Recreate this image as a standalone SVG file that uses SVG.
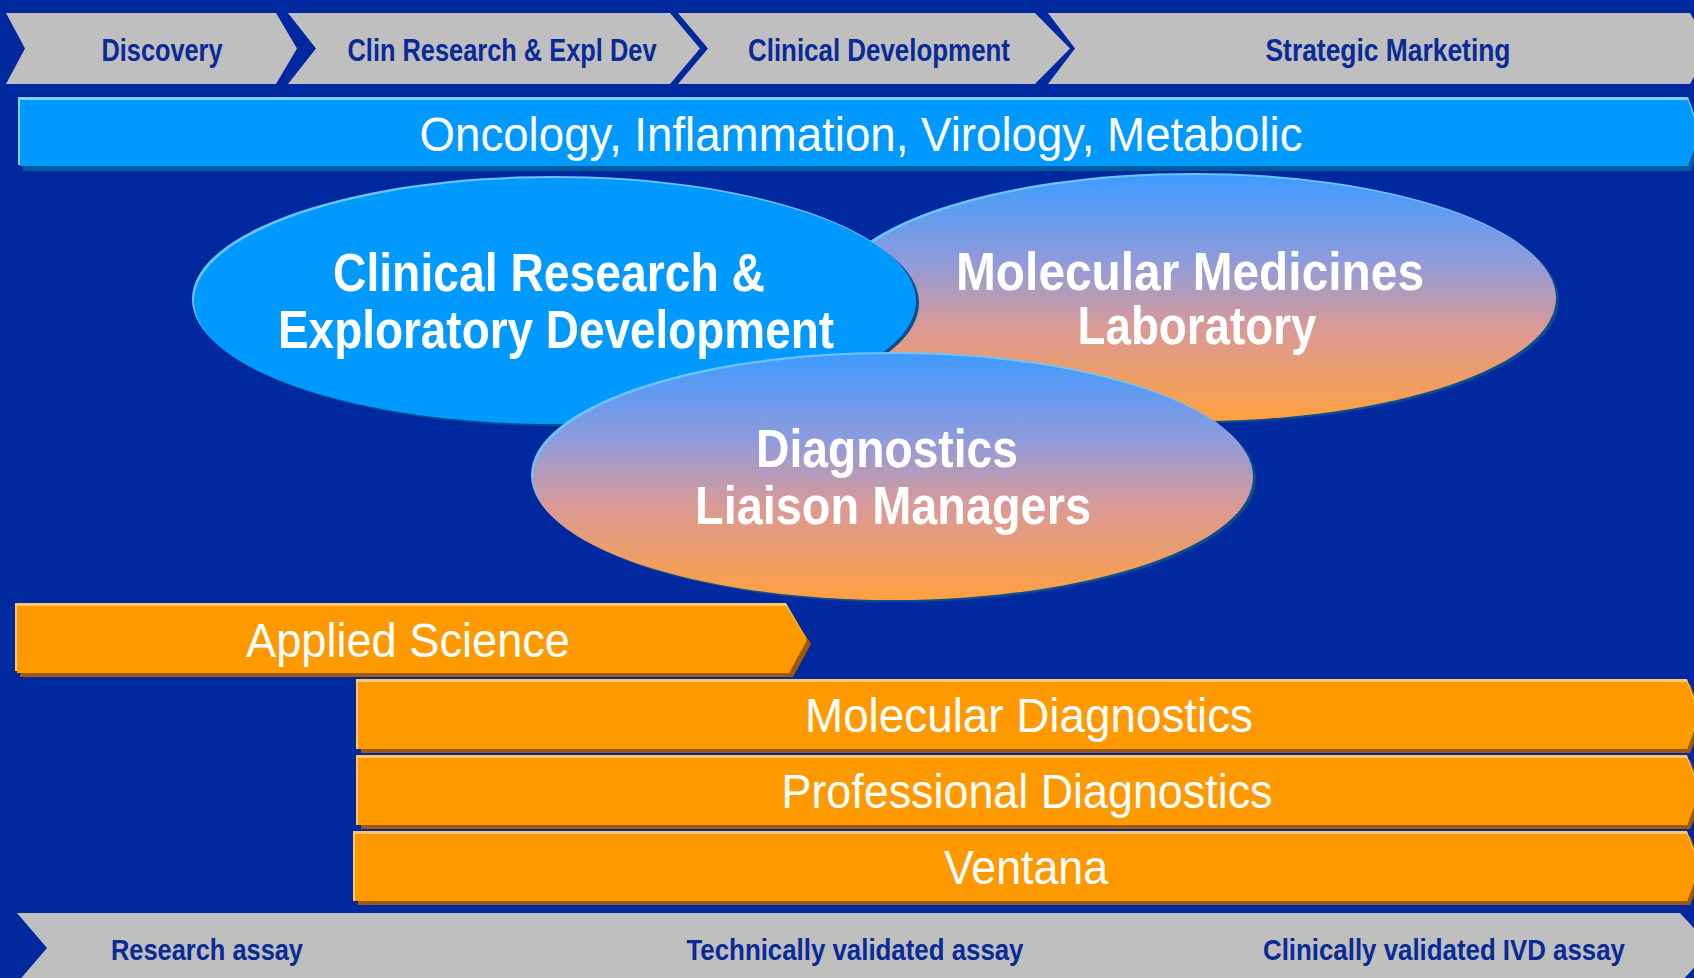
<svg xmlns="http://www.w3.org/2000/svg" width="1694" height="978" viewBox="0 0 1694 978">
<defs>
<style>
.t{font-family:"Liberation Sans Narrow","Liberation Sans","DejaVu Sans Condensed",Arial,sans-serif;}
.hdr{font-size:32px;font-weight:bold;fill:#0A2A96;text-anchor:middle;}
.ftr{font-size:30px;font-weight:bold;fill:#0A2A96;text-anchor:middle;}
.big{font-size:49px;fill:#fff;text-anchor:middle;}
.ell{font-size:53px;font-weight:bold;fill:#fff;text-anchor:middle;}
.gray{fill:#BFBFBF;}
.orange{fill:#FF9900;}
.oshadow{fill:#9C5A0C;}
.ohl{fill:#FFC66E;}
.eshadow{fill:#0B4E8E;}
.ehl{fill:#6CC4FF;}
</style>
<linearGradient id="grad" x1="0" y1="0" x2="0" y2="1">
<stop offset="0" stop-color="#3F9BFF"/>
<stop offset="0.35" stop-color="#8F9BDC"/>
<stop offset="0.62" stop-color="#DA9A96"/>
<stop offset="1" stop-color="#FFA040"/>
</linearGradient>
</defs>
<rect x="0" y="0" width="1694" height="978" fill="#0029A0"/>

<g id="phases">
<g id="phase-discovery">
<polygon class="gray" points="6,13 276,13 297,48.5 276,84 6,84 25,48.5"/>
<text class="t hdr" x="162" y="61" textLength="121" lengthAdjust="spacingAndGlyphs">Discovery</text>
</g>
<g id="phase-clin-research">
<polygon class="gray" points="288,13 670,13 700,48.5 670,84 288,84 316,48.5"/>
<text class="t hdr" x="502" y="61" textLength="309" lengthAdjust="spacingAndGlyphs">Clin Research &amp; Expl Dev</text>
</g>
<g id="phase-clinical-dev">
<polygon class="gray" points="678,13 1035,13 1070,48.5 1035,84 678,84 708,48.5"/>
<text class="t hdr" x="879" y="61" textLength="262" lengthAdjust="spacingAndGlyphs">Clinical Development</text>
</g>
<g id="phase-strategic-marketing">
<polygon class="gray" points="1048,13 1690,13 1710,48.5 1690,84 1048,84 1075,48.5"/>
<text class="t hdr" x="1388" y="61" textLength="245" lengthAdjust="spacingAndGlyphs">Strategic Marketing</text>
</g>
</g>

<g id="therapeutic-areas">
<polygon fill="#005C9E" points="23,103 1691,103 1703,137 1691,171 23,171"/>
<polygon fill="#7FD0FF" points="18,97 1688,97 1700,131 1688,165 18,165"/>
<polygon fill="#0099FF" points="20,100 1688,100 1699,133 1688,166 20,166"/>
<text class="t big" x="861" y="151" textLength="883" lengthAdjust="spacingAndGlyphs">Oncology, Inflammation, Virology, Metabolic</text>
</g>

<g id="molecular-medicines">
<ellipse class="eshadow" cx="1198" cy="300" rx="361" ry="123"/>
<ellipse class="ehl" cx="1193" cy="296" rx="361" ry="123"/>
<ellipse fill="url(#grad)" cx="1195" cy="298" rx="361" ry="123"/>
<text class="t ell" x="1190" y="290" textLength="468" lengthAdjust="spacingAndGlyphs">Molecular Medicines</text>
<text class="t ell" x="1197" y="344" textLength="239" lengthAdjust="spacingAndGlyphs">Laboratory</text>
</g>

<g id="clinical-research">
<ellipse class="eshadow" cx="558" cy="303" rx="361" ry="123"/>
<ellipse class="ehl" cx="553" cy="299" rx="361" ry="123"/>
<ellipse fill="#0099FF" cx="555" cy="301" rx="361" ry="123"/>
<text class="t ell" x="549" y="291" textLength="432" lengthAdjust="spacingAndGlyphs">Clinical Research &amp;</text>
<text class="t ell" x="556" y="348" textLength="556" lengthAdjust="spacingAndGlyphs">Exploratory Development</text>
</g>

<g id="diagnostics-liaison">
<ellipse class="eshadow" cx="896" cy="479" rx="360" ry="123"/>
<ellipse class="ehl" cx="891" cy="475" rx="360" ry="123"/>
<ellipse fill="url(#grad)" cx="893" cy="477" rx="360" ry="123"/>
<text class="t ell" x="887" y="467" textLength="262" lengthAdjust="spacingAndGlyphs">Diagnostics</text>
<text class="t ell" x="893" y="524" textLength="396" lengthAdjust="spacingAndGlyphs">Liaison Managers</text>
</g>

<g id="applied-science">
<polygon class="oshadow" points="20,609 789,609 811,644 793,677 20,677"/>
<polygon class="ohl" points="15,603 786,603 806,638 788,671 15,671"/>
<polygon class="orange" points="17,606 786,606 807,640 789,673 17,673"/>
<text class="t big" x="408" y="657" textLength="324" lengthAdjust="spacingAndGlyphs">Applied Science</text>
</g>

<g id="molecular-diagnostics">
<polygon class="oshadow" points="361,684 1690,684 1705,718 1690,753 361,753"/>
<polygon class="ohl" points="356,679 1687,679 1700,714 1687,749 356,749"/>
<polygon class="orange" points="358,682 1687,682 1699,715 1687,749 358,749"/>
<text class="t big" x="1029" y="732" textLength="448" lengthAdjust="spacingAndGlyphs">Molecular Diagnostics</text>
</g>

<g id="professional-diagnostics">
<polygon class="oshadow" points="361,760 1690,760 1705,794 1690,829 361,829"/>
<polygon class="ohl" points="356,755 1687,755 1700,790 1687,825 356,825"/>
<polygon class="orange" points="358,758 1687,758 1699,791 1687,825 358,825"/>
<text class="t big" x="1027" y="808" textLength="491" lengthAdjust="spacingAndGlyphs">Professional Diagnostics</text>
</g>

<g id="ventana">
<polygon class="oshadow" points="358,836 1690,836 1705,870 1690,905 358,905"/>
<polygon class="ohl" points="353,831 1687,831 1700,866 1687,901 353,901"/>
<polygon class="orange" points="355,834 1687,834 1699,867 1687,901 355,901"/>
<text class="t big" x="1026" y="884" textLength="164" lengthAdjust="spacingAndGlyphs">Ventana</text>
</g>

<g id="assay-stages">
<polygon class="gray" points="17,913 1680,913 1712,948 1680,983 17,983 47,948"/>
<text class="t ftr" x="207" y="960" textLength="192" lengthAdjust="spacingAndGlyphs">Research assay</text>
<text class="t ftr" x="855" y="960" textLength="337" lengthAdjust="spacingAndGlyphs">Technically validated assay</text>
<text class="t ftr" x="1444" y="960" textLength="362" lengthAdjust="spacingAndGlyphs">Clinically validated IVD assay</text>
</g>

<g id="connectors"></g>
</svg>
